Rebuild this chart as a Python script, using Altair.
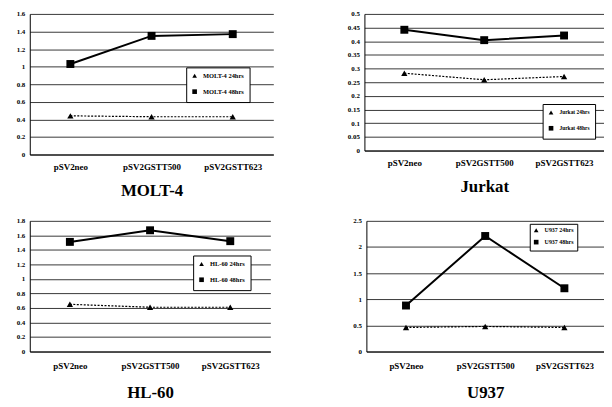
import altair as alt
import pandas as pd

categories = ["pSV2neo", "pSV2GSTT500", "pSV2GSTT623"]

molt_24 = [0.44, 0.43, 0.43]
molt_48 = [1.03, 1.35, 1.37]
jurkat_24 = [0.283, 0.259, 0.271]
jurkat_48 = [0.442, 0.404, 0.421]
hl60_24 = [0.65, 0.61, 0.61]
hl60_48 = [1.51, 1.67, 1.52]
u937_24 = [0.46, 0.48, 0.46]
u937_48 = [0.88, 2.21, 1.21]

molt_ticks = [0, 0.2, 0.4, 0.6, 0.8, 1, 1.2, 1.4, 1.6]
jurkat_ticks = [0, 0.05, 0.1, 0.15, 0.2, 0.25, 0.3, 0.35, 0.4, 0.45, 0.5]
hl60_ticks = [0, 0.2, 0.4, 0.6, 0.8, 1, 1.2, 1.4, 1.6, 1.8]
u937_ticks = [0, 0.5, 1, 1.5, 2, 2.5]

SERIF = "Liberation Serif"


def panel(name, v24, v48, ticks, width, height, yext, lx, ly, rowpad, legpad, lfont,
          lpad, tpad):
    s24 = f"{name} 24hrs"
    s48 = f"{name} 48hrs"
    df = pd.DataFrame({
        "category": categories * 2,
        "series": [s24] * 3 + [s48] * 3,
        "value": v24 + v48,
    })
    dom = [s24, s48]
    x = alt.X("category:N", sort=categories,
              scale=alt.Scale(type="point", padding=0.5),
              axis=alt.Axis(title=name, labelAngle=0, labelPadding=lpad,
                            labelFontSize=9, titlePadding=tpad))
    y = alt.Y("value:Q", scale=alt.Scale(domain=[0, ticks[-1]], nice=False, zero=True),
              axis=alt.Axis(values=ticks, format=".2~f", title=None, grid=True,
                            minExtent=yext, maxExtent=yext, labelFontSize=7,
                            labelPadding=5))
    shape_scale = alt.Scale(domain=dom, range=["triangle-up", "square"])
    base = alt.Chart(df)
    line24 = base.transform_filter(alt.datum.series == s24).mark_line(
        color="black", strokeDash=[2, 1.5], strokeWidth=1.2).encode(x=x, y=y)
    line48 = base.transform_filter(alt.datum.series == s48).mark_line(
        color="black", strokeWidth=2).encode(x=x, y=y)
    pt24 = base.transform_filter(alt.datum.series == s24).mark_point(
        filled=True, color="black", opacity=1, size=40).encode(
        x=x, y=y,
        shape=alt.Shape("series:N", scale=shape_scale,
                        legend=alt.Legend(title=None, orient="none", legendX=lx, legendY=ly,
                                          rowPadding=rowpad, padding=legpad,
                                          labelFontSize=lfont)))
    pt48 = base.transform_filter(alt.datum.series == s48).mark_point(
        filled=True, color="black", opacity=1, size=64).encode(
        x=x, y=y,
        shape=alt.Shape("series:N", scale=shape_scale))
    return alt.layer(line24, line48, pt24, pt48).properties(width=width, height=height)


p1 = panel("MOLT-4", molt_24, molt_48, molt_ticks, 246, 142, 22, 158, 54, 5, 5, 6.5, 8, 11)
p2 = panel("Jurkat", jurkat_24, jurkat_48, jurkat_ticks, 242, 138, 28, 180, 91, 5, 5, 5.5, 8, 11)
p3 = panel("HL-60", hl60_24, hl60_48, hl60_ticks, 243, 132, 22, 165, 35, 5, 5, 6.5, 10, 14)
p4 = panel("U937", u937_24, u937_48, u937_ticks, 240, 132, 28, 165, 3, 1, 3, 6, 10, 14)

res = dict(shape="independent", x="independent", y="independent")

row1 = alt.hconcat(p1, p2, spacing=64).resolve_scale(**res).resolve_legend(shape="independent")
row2 = alt.hconcat(p3, p4, spacing=69).resolve_scale(**res).resolve_legend(shape="independent")

chart = alt.vconcat(row1, row2, spacing=19).resolve_scale(**res).resolve_legend(
    shape="independent"
).properties(
    padding={"left": 0, "top": 0, "right": 0, "bottom": 0},
    background="white",
).configure_view(
    stroke=None
).configure_axis(
    labelFont=SERIF, labelFontWeight="bold", labelColor="black",
    titleFont=SERIF, titleFontWeight="bold", titleFontSize=17, titleColor="black",
    domainColor="black", domainWidth=1, ticks=False,
    gridColor="#222", gridWidth=0.9,
).configure_legend(
    labelFont=SERIF, labelFontWeight="bold", labelColor="black",
    strokeColor="black", fillColor="white", symbolSize=22,
    symbolFillColor="black", symbolStrokeColor="black", labelOffset=5, cornerRadius=0,
)

chart.save("out.html", embed_options={"renderer": "svg", "actions": False})
